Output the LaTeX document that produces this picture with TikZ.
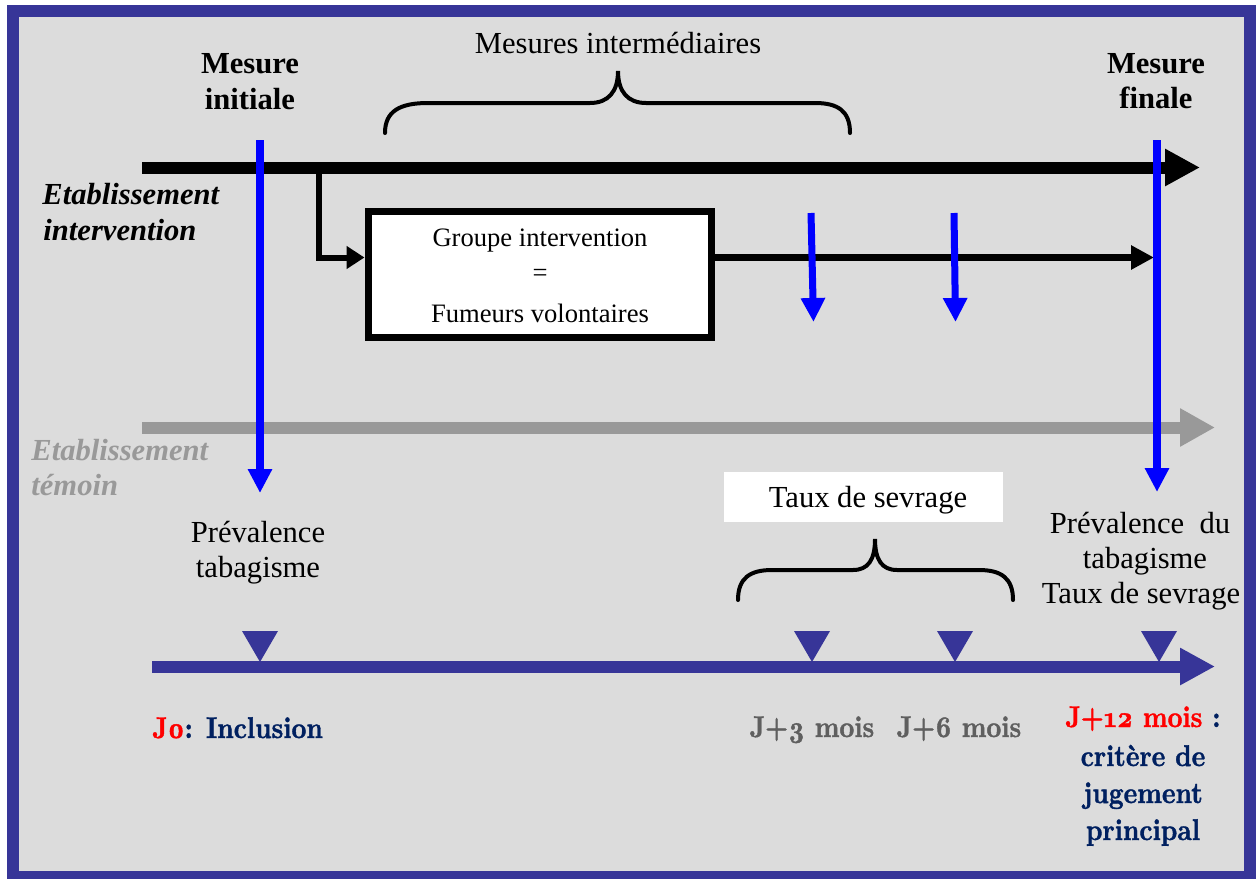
\documentclass[tikz,border=0pt]{standalone}
\usepackage{fontspec}
\setmainfont{Liberation Serif}
\newfontfamily\camb[Numbers=OldStyle, FakeBold=1.3, FakeStretch=0.86]{lmroman10-bold.otf}
\usetikzlibrary{arrows.meta}
\definecolor{framecol}{RGB}{55,53,152}
\definecolor{bggray}{RGB}{220,220,220}
\definecolor{pureblue}{RGB}{0,0,255}
\definecolor{arrgray}{RGB}{153,153,153}
\definecolor{navy}{RGB}{0,32,96}
\definecolor{jgray}{RGB}{95,95,95}
\tikzset{
  lbl/.style={font=\fontsize{15.3}{18}\selectfont, inner sep=0pt, anchor=base},
  blbl/.style={font=\fontsize{15.3}{18}\selectfont\bfseries, inner sep=0pt, anchor=base},
  ilbl/.style={font=\fontsize{15.3}{18}\selectfont\bfseries\itshape, inner sep=0pt, anchor=base west},
  boxlbl/.style={font=\fontsize{13.3}{16}\selectfont, inner sep=0pt, anchor=base},
  bot/.style={font=\camb\fontsize{15}{18}\selectfont, inner sep=0pt, anchor=base},
  bigarrow/.style={line width=6pt, -{Triangle[length=17.5pt,width=17.5pt]}},
  bluearrow/.style={pureblue, line width=4pt, -{Triangle[length=12pt,width=11.5pt]}},
  smallblue/.style={pureblue, line width=3.5pt, -{Triangle[length=12pt,width=11.5pt]}},
  brace/.style={line width=2pt, line cap=round},
  marker/.style={fill=framecol},
}
\begin{document}
\begin{tikzpicture}[x=0.5pt,y=-0.5pt]
\useasboundingbox (0,0) rectangle (1257,878);
\fill[white] (0,0) rectangle (1257,878);
\draw[line width=6pt, framecol, fill=bggray] (13,11) rectangle (1250,877);

% coordinates
\coordinate (tl) at (142,167.5);
\coordinate (tr) at (1200,167.5);
\coordinate (gl) at (142,427.5);
\coordinate (gr) at (1215,427.5);
\coordinate (bl) at (152,666.5);
\coordinate (bend) at (1215,666.5);
\coordinate (br) at (319,167.5);
\coordinate (fin) at (1154,257.5);
\coordinate (b1t) at (260,140);
\coordinate (b1b) at (260,493);
\coordinate (b2t) at (1157,140);
\coordinate (b2b) at (1157,492);
\coordinate (s1t) at (811,213);
\coordinate (s1b) at (813.5,322);
\coordinate (s2t) at (954,213);
\coordinate (s2b) at (955.5,322);

% main arrows
\draw[bigarrow] (tl) -- (tr);
\draw[bigarrow, arrgray, -{Triangle[length=17.5pt,width=18pt]}] (gl) -- (gr);
\draw[bigarrow, framecol] (bl) -- (bend);

% intervention box
\node[draw, line width=3.5pt, fill=white, minimum width=171.5pt, minimum height=63pt, inner sep=0pt] (box) at (539.5,274) {};
\node[boxlbl] (g1) at (540,246) {Groupe intervention};
\node[boxlbl] (g2) at (540,281) {=};
\node[boxlbl] (g3) at (540,322) {Fumeurs volontaires};

\draw[line width=3pt, -{Triangle[length=9pt,width=11pt]}] (br) |- ([yshift=8.25pt]box.west);
\draw[line width=3.5pt, -{Triangle[length=11.5pt,width=11.5pt]}] ([yshift=8.25pt]box.east) -- (fin);

% blue arrows
\draw[bluearrow] (b1t) -- (b1b);
\draw[bluearrow] (b2t) -- (b2b);
\draw[smallblue] (s1t) -- (s1b);
\draw[smallblue] (s2t) -- (s2b);

% braces
\draw[brace] (385,133) .. controls (385,111) and (400,103) .. (428,103) -- (590,103) .. controls (608,103) and (618,92) .. (618,71) .. controls (618,92) and (628,103) .. (646,103) -- (815,103) .. controls (838,103) and (850,111) .. (850,133);
\draw[brace] (738,600) .. controls (738,578) and (750,570) .. (772,570) -- (853,570) .. controls (868,570) and (875,560) .. (875,539) .. controls (875,560) and (882,570) .. (897,570) -- (979,570) .. controls (1001,570) and (1013,578) .. (1013,600);

% markers
\foreach \mx in {260,812,955,1159} {
  \fill[marker] (\mx-18,631) -- (\mx+18,631) -- (\mx,662) -- cycle;
}

% top labels
\node[blbl] (mi1) at (250,73) {Mesure};
\node[blbl] (mi2) at (250,109) {initiale};
\node[blbl] (mf1) at (1156,73) {Mesure};
\node[blbl] (mf2) at (1156,108) {finale};
\node[lbl] (mint) at (618,53) {Mesures intermédiaires};
\node[ilbl] (ei1) at (42,204) {Etablissement};
\node[ilbl] (ei2) at (43,240) {intervention};
\node[ilbl, text=arrgray] (et1) at (31,460) {Etablissement};
\node[ilbl, text=arrgray] (et2) at (31,495) {témoin};

% middle labels
\node[lbl] (p1) at (258,542) {Prévalence};
\node[lbl] (p2) at (258,577) {tabagisme};
\node[fill=white, minimum width=139.5pt, minimum height=25pt, inner sep=0pt] (tsbox) at (863.5,497) {};
\node[lbl] (ts) at (868,507) {Taux de sevrage};
\node[lbl] (pf1) at (1140,533) {Prévalence~ du};
\node[lbl] (pf2) at (1145,568) {tabagisme};
\node[lbl] (pf3) at (1141,603) {Taux de sevrage};

% bottom labels
\node[bot, anchor=base west] (j0) at (152,738) {\textcolor{red}{J0}\textcolor{navy}{: Inclusion}};
\node[bot, text=jgray] (j3) at (812,737) {J+3 mois};
\node[bot, text=jgray] (j6) at (959,737) {J+6 mois};
\node[bot] (j12) at (1143,727) {\textcolor{red}{J+12 mois}\textcolor{navy}{\ :}};
\node[bot, text=navy] (c1) at (1143,766) {critère de};
\node[bot, text=navy] (c2) at (1143,803) {jugement};
\node[bot, text=navy] (c3) at (1143,840) {principal};
\end{tikzpicture}
\end{document}
